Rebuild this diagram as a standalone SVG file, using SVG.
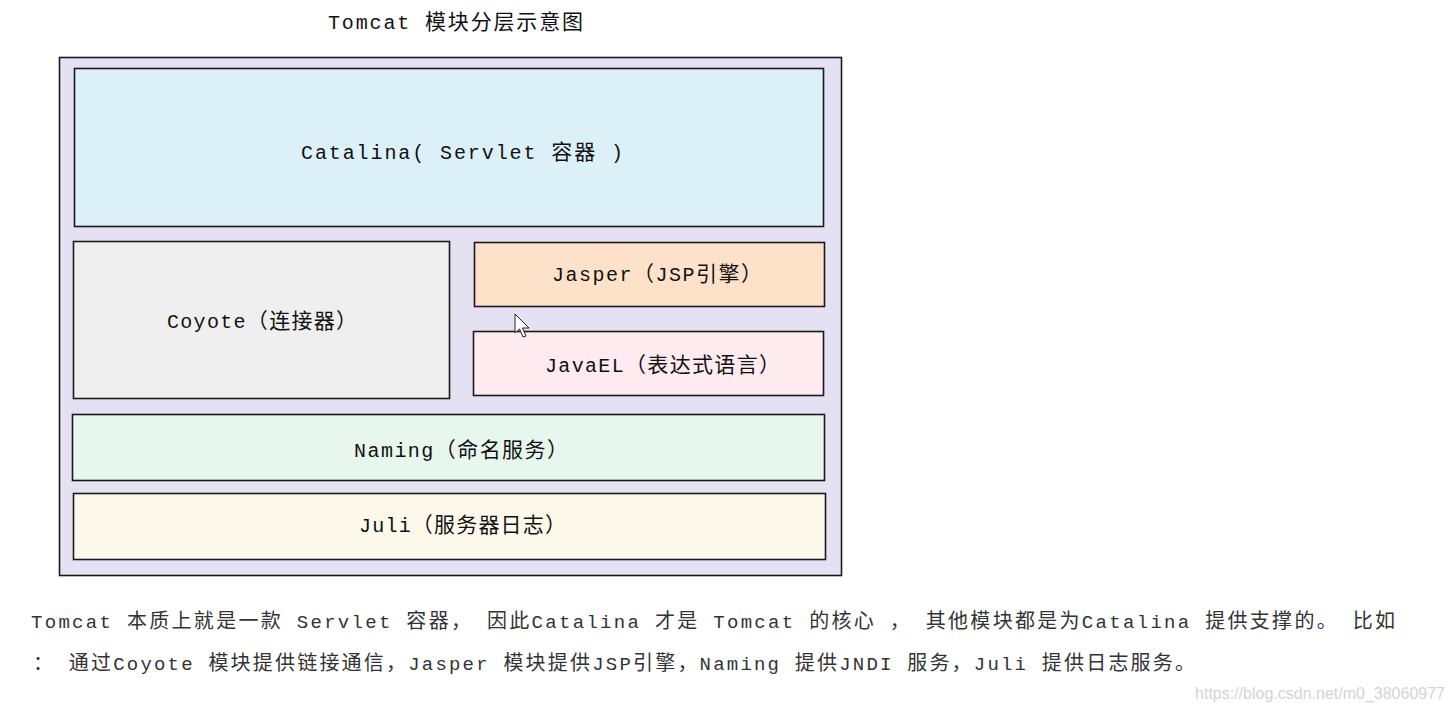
<svg xmlns="http://www.w3.org/2000/svg" width="1454" height="712" viewBox="0 0 1454 712">
<style>
.box{stroke:#1a1a1a;stroke-width:1.6}
.lbl{font-family:"Liberation Mono","Noto Sans CJK SC",monospace;font-size:20px;fill:#111;text-anchor:start}
.cjk{font-family:"Noto Sans CJK SC","Liberation Sans",sans-serif;font-size:21px}
.body{font-family:"Liberation Mono","Noto Sans CJK SC",monospace;font-size:19px;fill:#333}
.bcjk{font-family:"Noto Sans CJK SC","Liberation Sans",sans-serif;font-size:20px}
</style>
<rect width="1454" height="712" fill="#ffffff"/>
<text id="title" class="lbl" x="328" y="29" textLength="255" lengthAdjust="spacing">Tomcat <tspan class="cjk">模块分层示意图</tspan></text>
<g id="outer"><rect class="box" x="59.5" y="57.5" width="782" height="518" fill="#e3e1f2"/></g>
<g id="catalina"><rect class="box" x="74.5" y="68.5" width="749" height="158" fill="#dcf0f8"/>
<text class="lbl" x="301" y="159" textLength="322" lengthAdjust="spacing">Catalina( Servlet <tspan class="cjk">容器</tspan> )</text></g>
<g id="coyote"><rect class="box" x="73.5" y="241.5" width="376" height="157" fill="#efefef"/>
<text class="lbl" x="167" y="328" textLength="190" lengthAdjust="spacing">Coyote<tspan class="cjk">（连接器）</tspan></text></g>
<g id="jasper"><rect class="box" x="474.5" y="242.5" width="350" height="64" fill="#fde2c9"/>
<text class="lbl" x="552" y="281" textLength="210" lengthAdjust="spacing">Jasper<tspan class="cjk">（</tspan>JSP<tspan class="cjk">引擎）</tspan></text></g>
<g id="javael"><rect class="box" x="473.5" y="331.5" width="350" height="64" fill="#fdebf0"/>
<text class="lbl" x="545" y="372" textLength="235" lengthAdjust="spacing">JavaEL<tspan class="cjk">（表达式语言）</tspan></text></g>
<g id="naming"><rect class="box" x="72.5" y="414.5" width="752" height="66" fill="#e8f7ed"/>
<text class="lbl" x="354" y="457" textLength="214" lengthAdjust="spacing">Naming<tspan class="cjk">（命名服务）</tspan></text></g>
<g id="juli"><rect class="box" x="73.5" y="493.5" width="752" height="66" fill="#fdf9ea"/>
<text class="lbl" x="359" y="532" textLength="207" lengthAdjust="spacing">Juli<tspan class="cjk">（服务器日志）</tspan></text></g>
<g id="connectors"></g>
<polygon points="515,314 515,333 519.5,329 523,337 526,336 522.5,328 529,328" fill="#ffffff" stroke="#222" stroke-width="1"/>
<text class="body" x="31" y="628" textLength="1364" lengthAdjust="spacing">Tomcat <tspan class="bcjk">本质上就是一款</tspan> Servlet <tspan class="bcjk">容器，</tspan> <tspan class="bcjk">因此</tspan>Catalina <tspan class="bcjk">才是</tspan> Tomcat <tspan class="bcjk">的核心</tspan> <tspan class="bcjk">，</tspan> <tspan class="bcjk">其他模块都是为</tspan>Catalina <tspan class="bcjk">提供支撑的。</tspan> <tspan class="bcjk">比如</tspan></text>
<text class="body" x="33" y="670" textLength="1162" lengthAdjust="spacing"><tspan class="bcjk">：</tspan> <tspan class="bcjk">通过</tspan>Coyote <tspan class="bcjk">模块提供链接通信，</tspan>Jasper <tspan class="bcjk">模块提供</tspan>JSP<tspan class="bcjk">引擎，</tspan>Naming <tspan class="bcjk">提供</tspan>JNDI <tspan class="bcjk">服务，</tspan>Juli <tspan class="bcjk">提供日志服务。</tspan></text>
<text x="1445" y="699" font-family="Liberation Sans Narrow,Liberation Sans,sans-serif" font-size="16" fill="#d4d4d4" text-anchor="end">https://blog.csdn.net/m0_38060977</text>
</svg>
